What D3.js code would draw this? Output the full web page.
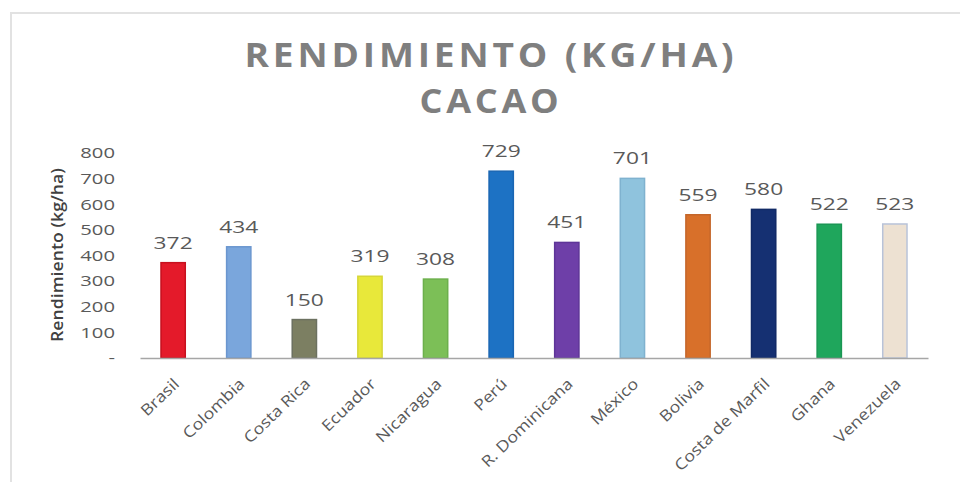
<!DOCTYPE html>
<meta charset="utf-8">
<style>
body { margin: 0; background: #fff; }
text { font-family: "Open Sans", sans-serif; }
</style>
<svg width="960" height="482"></svg>
<script src="https://cdn.jsdelivr.net/npm/d3@7"></script>
<script>

// data
var paises = ["Brasil", "Colombia", "Costa Rica", "Ecuador", "Nicaragua", "Perú",
  "R. Dominicana", "México", "Bolivia", "Costa de Marfil", "Ghana", "Venezuela"];
var rendimiento = [372, 434, 150, 319, 308, 729, 451, 701, 559, 580, 522, 523];
var colores = ["#e41a2a", "#7aa6dc", "#7c7f62", "#e8e83a", "#7cbf57", "#1d72c4",
  "#6e3fa8", "#8fc3dd", "#d8702a", "#153072", "#1fa65c", "#ede1d2"];
var bordes = ["#c7111f", "#6b96cf", "#6c7160", "#d6d63a", "#6cb04c", "#1a66b3",
  "#5e3598", "#7fb2cf", "#c4662a", "#112a66", "#1a9653", "#b8c3d9"];
var ticksY = [0, 100, 200, 300, 400, 500, 600, 700, 800];

var svg = d3.select("svg"),
    width = +svg.attr("width"),
    height = +svg.attr("height");

// the source picture is a bit stretched sideways, so widen the glyphs
function estirar(sel, f) {
  sel.each(function() {
    d3.select(this)
      .attr("textLength", this.getComputedTextLength() * f)
      .attr("lengthAdjust", "spacingAndGlyphs");
  });
}

// light frame around the chart
svg.append("path")
    .attr("d", "M11," + height + "V13H" + width)
    .attr("fill", "none")
    .attr("stroke", "#e2e2e2")
    .attr("stroke-width", 2);

// title
var titulo = svg.append("g").attr("fill", "#7f7f7f")
    .attr("font-weight", "bold")
    .attr("letter-spacing", 3.5)
    .attr("text-anchor", "middle");
titulo.append("text")
    .attr("x", 491).attr("y", 67)
    .attr("font-size", 34)
    .attr("textLength", 493)
    .attr("lengthAdjust", "spacingAndGlyphs")
    .text("RENDIMIENTO (KG/HA)");
titulo.append("text")
    .attr("x", 491).attr("y", 113)
    .attr("font-size", 34)
    .attr("textLength", 143)
    .attr("lengthAdjust", "spacingAndGlyphs")
    .text("CACAO");

var x = d3.scaleBand()
    .domain(paises)
    .range([140, 928])
    .paddingInner(0.63)
    .paddingOuter(0.32);

var y = d3.scaleLinear()
    .domain([0, 800])
    .range([358, 153]);

// y axis labels (no line)
var ejeY = svg.append("g")
    .attr("transform", "translate(115,0)")
    .call(d3.axisLeft(y).tickValues(ticksY).tickSize(0).tickPadding(0)
      .tickFormat(function(d) { return d === 0 ? "-" : d; }));
ejeY.select(".domain").remove();
ejeY.selectAll("text")
    .attr("font-family", "Open Sans, sans-serif")
    .attr("font-size", 15)
    .attr("fill", "#595959")
    .call(estirar, 1.35);

svg.append("text")
    .attr("transform", "translate(63,255) rotate(-90)")
    .attr("text-anchor", "middle")
    .attr("font-size", 15.5)
    .attr("font-weight", "600")
    .attr("fill", "#404040")
    .attr("textLength", 174)
    .attr("lengthAdjust", "spacingAndGlyphs")
    .text("Rendimiento (kg/ha)");

// bars
svg.append("g").selectAll("rect")
    .data(rendimiento)
    .enter().append("rect")
    .attr("x", function(d, i) { return x(paises[i]); })
    .attr("y", function(d) { return y(d); })
    .attr("width", x.bandwidth())
    .attr("height", function(d) { return y(0) - y(d); })
    .attr("fill", function(d, i) { return colores[i]; })
    .attr("stroke", function(d, i) { return bordes[i]; })
    .attr("stroke-width", 1.5);

// value labels
svg.append("g").selectAll("text")
    .data(rendimiento)
    .enter().append("text")
    .attr("x", function(d, i) { return x(paises[i]) + x.bandwidth() / 2; })
    .attr("y", function(d) { return y(d) - 14; })
    .attr("text-anchor", "middle")
    .attr("font-size", 16.5)
    .attr("fill", "#595959")
    .text(function(d) { return d; })
    .call(estirar, 1.38);

// x axis
var ejeX = svg.append("g")
    .attr("transform", "translate(0," + y(0) + ")")
    .call(d3.axisBottom(x).tickSize(0).tickSizeOuter(0).tickPadding(0));
ejeX.select(".domain")
    .attr("stroke", "#a6a6a6")
    .attr("stroke-width", 1.5);
ejeX.selectAll("text")
    .attr("font-family", "Open Sans, sans-serif")
    .attr("font-size", 15.5)
    .attr("fill", "#595959")
    .attr("text-anchor", "end")
    .attr("dy", 0)
    .attr("transform", "translate(7,27) rotate(-44)")
    .call(estirar, 1.15);

</script>
